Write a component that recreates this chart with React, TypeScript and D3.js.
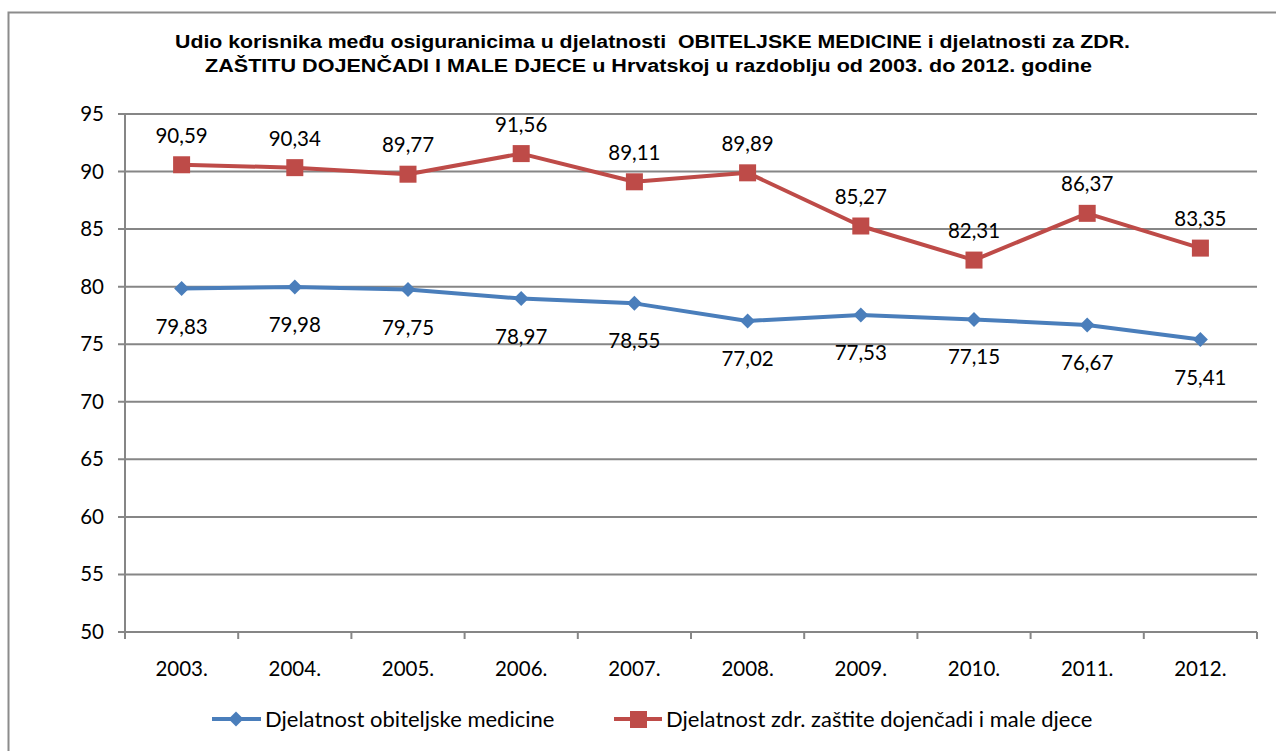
import React from "react";
import * as d3 from "d3";

const years = ["2003.", "2004.", "2005.", "2006.", "2007.", "2008.", "2009.", "2010.", "2011.", "2012."];
const obiteljska = [79.83, 79.98, 79.75, 78.97, 78.55, 77.02, 77.53, 77.15, 76.67, 75.41];
const dojencad = [90.59, 90.34, 89.77, 91.56, 89.11, 89.89, 85.27, 82.31, 86.37, 83.35];
const yTicks = [50, 55, 60, 65, 70, 75, 80, 85, 90, 95];
const titleLines = [
  "Udio korisnika među osiguranicima u djelatnosti  OBITELJSKE MEDICINE i djelatnosti za ZDR.",
  "ZAŠTITU DOJENČADI I MALE DJECE u Hrvatskoj u razdoblju od 2003. do 2012. godine",
];
const seriesNames = ["Djelatnost obiteljske medicine", "Djelatnost zdr. zaštite dojenčadi i male djece"];

const W = 1276, H = 751;
const left = 125, right = 1257, top = 114, bottom = 632;
const BLUE = "#4A7EBB", RED = "#BE4B48";
const font = "Lato, 'Open Sans', sans-serif";
const NUM = 20.5;
const titleWidths = [955, 887];
const fmt = (v: number) => v.toFixed(2).replace(".", ",");

export default function App() {
  const x = d3.scaleBand<string>().domain(years).range([left, right]);
  const y = d3.scaleLinear().domain([50, 95]).range([bottom, top]);
  const cx = (i: number) => (x(years[i]) as number) + x.bandwidth() / 2;
  const line = d3.line<number>().x((_, i) => cx(i)).y((d) => y(d));
  const bounds = years.map((yr) => x(yr) as number).concat([right]);
  const diamond = (px: number, py: number, r: number) =>
    `M${px},${py - r}L${px + r},${py}L${px},${py + r}L${px - r},${py}Z`;

  return (
    <svg width={W} height={H} style={{ position: "absolute", left: 0, top: 0 }}>
      <rect x={0} y={0} width={W} height={H} fill="#fff" />
      <rect x={8.5} y={12.5} width={W + 10} height={H + 10} fill="none" stroke="#8c8c8c" strokeWidth={2} />
      {titleLines.map((t, i) => (
        <text key={i} x={i === 0 ? 652.5 : 648.5} y={48 + i * 24} textAnchor="middle"
          fontFamily="'Liberation Sans', Arial, sans-serif" fontWeight="bold" fontSize={18} fill="#000"
          textLength={titleWidths[i]} lengthAdjust="spacingAndGlyphs" style={{ whiteSpace: "pre" }}>{t}</text>
      ))}
      {yTicks.map((t) => (
        <g key={t}>
          <line x1={left - 7} x2={right} y1={y(t)} y2={y(t)} stroke="#868686" strokeWidth={2} />
          <text x={104} y={y(t) + 7} textAnchor="end" fontFamily={font} fontSize={NUM} fill="#000">{t}</text>
        </g>
      ))}
      <line x1={left} x2={left} y1={top} y2={bottom} stroke="#868686" strokeWidth={2} />
      {bounds.map((b, i) => (
        <line key={i} x1={b} x2={b} y1={bottom} y2={bottom + 7} stroke="#868686" strokeWidth={2} />
      ))}
      {years.map((yr, i) => (
        <text key={yr} x={cx(i)} y={676} textAnchor="middle" fontFamily={font} fontSize={NUM} fill="#000">{yr}</text>
      ))}
      <path d={line(obiteljska) as string} fill="none" stroke={BLUE} strokeWidth={4} strokeLinejoin="round" />
      <path d={line(dojencad) as string} fill="none" stroke={RED} strokeWidth={4} strokeLinejoin="round" />
      {obiteljska.map((v, i) => (
        <g key={"b" + i}>
          <path d={diamond(cx(i), y(v), 7.5)} fill={BLUE} />
          <text x={cx(i)} y={y(v) + 45} textAnchor="middle" fontFamily={font} fontSize={NUM} fill="#000">{fmt(v)}</text>
        </g>
      ))}
      {dojencad.map((v, i) => (
        <g key={"r" + i}>
          <rect x={cx(i) - 8.5} y={y(v) - 8.5} width={17} height={17} fill={RED} />
          <text x={cx(i)} y={y(v) - 22} textAnchor="middle" fontFamily={font} fontSize={NUM} fill="#000">{fmt(v)}</text>
        </g>
      ))}
      <line x1={212} x2={261} y1={719} y2={719} stroke={BLUE} strokeWidth={4} />
      <path d={diamond(236, 719, 7.5)} fill={BLUE} />
      <text x={265} y={727} fontFamily={font} fontSize={22} fill="#000">{seriesNames[0]}</text>
      <line x1={614} x2={662} y1={719} y2={719} stroke={RED} strokeWidth={4} />
      <rect x={630} y={711} width={17} height={17} fill={RED} />
      <text x={666} y={727} fontFamily={font} fontSize={22} fill="#000">{seriesNames[1]}</text>
    </svg>
  );
}
